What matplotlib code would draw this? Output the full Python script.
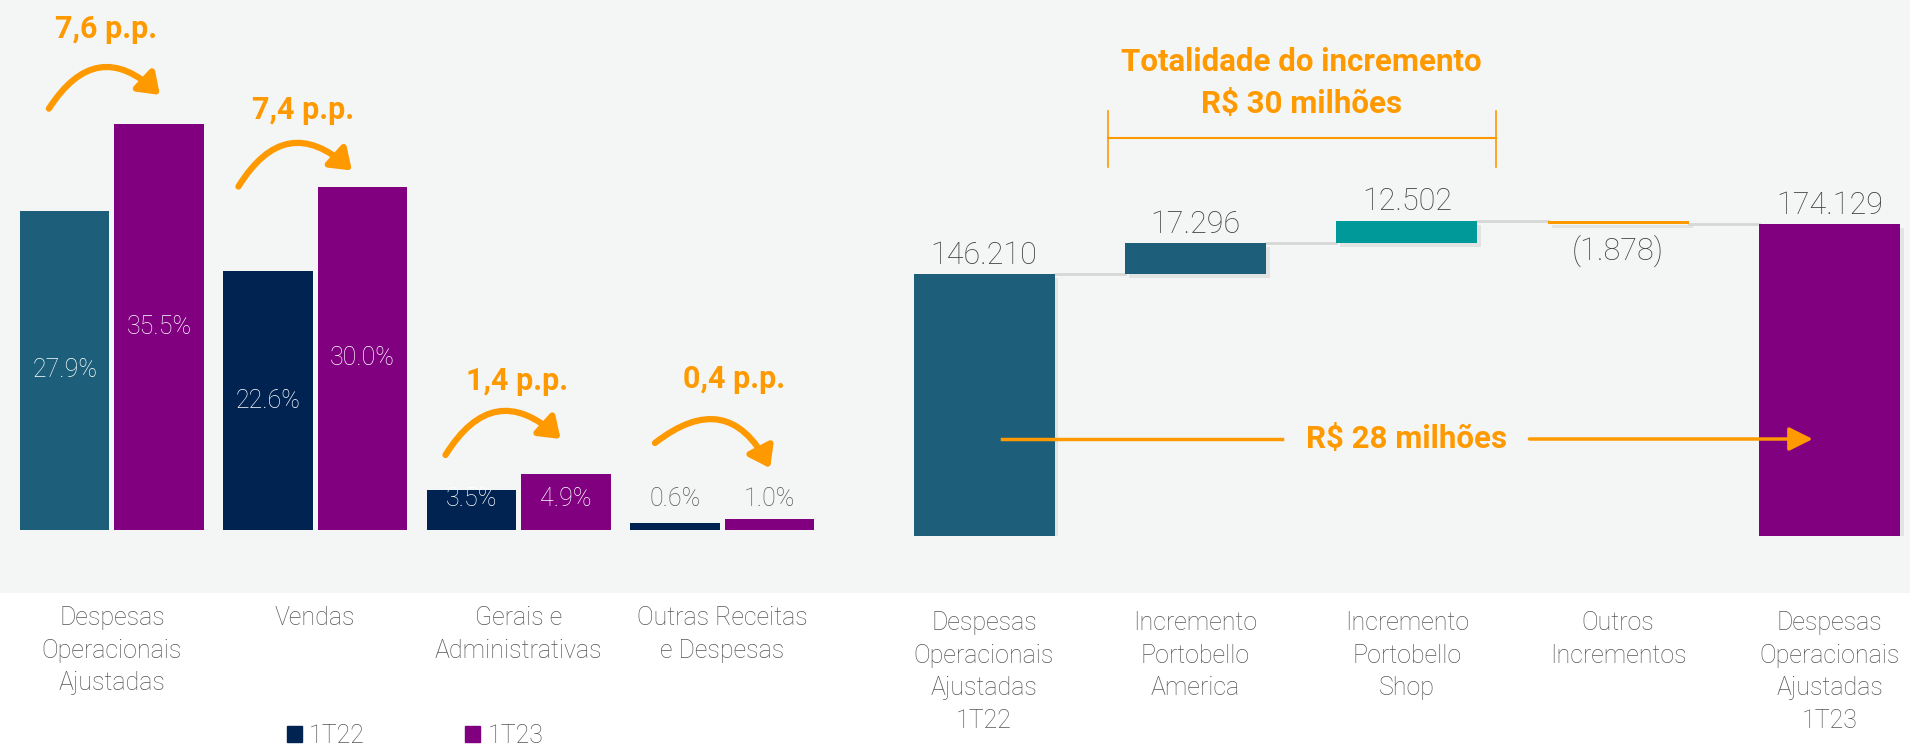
import numpy as np
import matplotlib.pyplot as plt
from matplotlib.patches import Rectangle, FancyArrowPatch, Patch

plt.rcParams['font.family'] = ['Roboto', 'DejaVu Sans']

# dados - painel esquerdo (% da receita)
categorias = ['Despesas\nOperacionais\nAjustadas', 'Vendas', 'Gerais e\nAdministrativas',
              'Outras Receitas\ne Despesas']
t22 = [27.9, 22.6, 3.5, 0.6]
t23 = [35.5, 30.0, 4.9, 1.0]
variacao = ['7,6 p.p.', '7,4 p.p.', '1,4 p.p.', '0,4 p.p.']

# dados - painel direito (ponte, R$ mil)
etapas = ['Despesas\nOperacionais\nAjustadas\n1T22', 'Incremento\nPortobello\nAmerica',
          'Incremento\nPortobello\nShop', 'Outros\nIncrementos',
          'Despesas\nOperacionais\nAjustadas\n1T23']
inicio = 146210
incrementos = [17296, 12502, -1878]
fim = 174129

LARANJA = '#ff9900'
TEAL = '#1d5f7a'
NAVY = '#002352'
ROXO = '#800080'
VERDE = '#009999'
CINZA = '#555555'
FUNDO = '#f4f6f5'

W, H = 1910, 748
fig = plt.figure(figsize=(W / 100, H / 100), dpi=100)
fig.patch.set_facecolor('white')
# faixa cinza de fundo
fig.patches.append(Rectangle((0, 155 / H), 1, 1, transform=fig.transFigure,
                             facecolor=FUNDO, edgecolor='none', zorder=-10))

# ---------------- painel esquerdo ----------------
ax1 = fig.add_axes([10.25 / W, 218 / H, 813.5 / W, 530 / H])
ax1.set_facecolor('none')
x = np.arange(len(categorias))
w = 0.44
cores22 = [TEAL] + [NAVY] * (len(t22) - 1)
ax1.bar(x - 0.232, t22, w, color=cores22)
ax1.bar(x + 0.232, t23, w, color=ROXO)
ax1.set_xlim(-0.5, 3.5)
ax1.set_ylim(0, 46.29)
ax1.axis('off')

for xi, vals in [(x - 0.232, t22), (x + 0.232, t23)]:
    for xx, v in zip(xi, vals):
        if v >= 2:
            ax1.text(xx, max(v / 2, 2.7), f'{v:.1f}%', ha='center', va='center',
                     color='white', fontsize=18, fontweight='light')
        else:
            ax1.text(xx, 2.7, f'{v:.1f}%', ha='center', va='center',
                     color=CINZA, fontsize=18, fontweight='light')

for i, lab in enumerate(categorias):
    ax1.annotate(lab, xy=(i, 0), xytext=(0, -55), textcoords='offset points',
                 ha='center', va='top', fontsize=18, fontweight='light', color=CINZA,
                 linespacing=1.45, annotation_clip=False)

# setas curvas e textos de variacao
pp_xy = [(-0.03, 43.8), (0.94, 36.7), (1.99, 13.0), (3.06, 13.2)]
setas = [((-0.31, 36.8), (0.236, 38.0)), ((0.622, 30.0), (1.18, 31.4)),
         ((1.64, 6.55), (2.206, 7.95)), ((2.67, 7.6), (3.236, 5.4))]
for txt, (tx, ty), (a, b) in zip(variacao, pp_xy, setas):
    ax1.text(tx, ty, txt, ha='center', va='center', color=LARANJA,
             fontsize=22, fontweight='bold')
    ax1.add_patch(FancyArrowPatch(a, b, connectionstyle='arc3,rad=-0.6',
                                  arrowstyle='-|>,head_length=0.7,head_width=0.5',
                                  mutation_scale=17, color=LARANJA, lw=4.5,
                                  shrinkA=0, shrinkB=0))

fig.legend(handles=[Patch(color=NAVY, label='1T22'), Patch(color=ROXO, label='1T23')],
           loc='center', bbox_to_anchor=(415 / W, 12 / H), ncol=2, frameon=False,
           handlelength=0.6, handleheight=0.6, handletextpad=0.3, columnspacing=4.0,
           prop={'size': 18, 'weight': 'light'}, labelcolor=CINZA)

# ---------------- painel direito (ponte) ----------------
ax2 = fig.add_axes([878.3 / W, 212 / H, (W - 878.3) / W, 536 / H])
ax2.set_facecolor('none')
ax2.set_xlim(-0.5, 4.38)
ax2.set_ylim(0, 299107)
ax2.axis('off')

acum = np.cumsum([inicio] + incrementos)
bases = [0] + [min(acum[i], acum[i + 1]) for i in range(len(incrementos))] + [0]
alturas = [inicio] + [abs(v) for v in incrementos] + [fim]
cores = [TEAL, TEAL, VERDE, LARANJA, ROXO]
xs = np.arange(len(etapas))
bw = 0.667

# sombra
ax2.bar(xs + 0.018, alturas, bw, bottom=np.array(bases) - 2500, color='black',
        alpha=0.07, zorder=1)
ax2.bar(xs, alturas, bw, bottom=bases, color=cores, zorder=3)

# conectores
niveis = list(acum) + [fim]
for i in range(len(xs) - 1):
    ax2.plot([xs[i] + bw / 2, xs[i + 1] - bw / 2], [niveis[i], niveis[i]],
             color='#d5d8d7', lw=2, zorder=2)

valores = [inicio] + incrementos + [fim]
for i, v in enumerate(valores):
    s = f'{abs(v):,}'.replace(',', '.')
    if v < 0:
        ax2.annotate(f'({s})', xy=(i, bases[i]), xytext=(0, -8), textcoords='offset points',
                     ha='center', va='top', fontsize=22, fontweight='light', color='#404040')
    else:
        ax2.annotate(s, xy=(i, bases[i] + alturas[i]), xytext=(0, 3),
                     textcoords='offset points', ha='center', va='bottom',
                     fontsize=22, fontweight='light', color='#404040')

for i, lab in enumerate(etapas):
    ax2.annotate(lab, xy=(i, 0), xytext=(0, -54), textcoords='offset points',
                 ha='center', va='top', fontsize=18, fontweight='light', color=CINZA,
                 linespacing=1.45, annotation_clip=False)

# chave "Totalidade do incremento"
ax2.plot([0.587, 2.42], [222098, 222098], color=LARANJA, lw=1.5)
ax2.plot([0.587, 0.587], [205915, 237165], color=LARANJA, lw=1.2)
ax2.plot([2.42, 2.42], [205915, 237165], color=LARANJA, lw=1.2)
ax2.text(1.5, 253000, 'Totalidade do incremento\nR$ 30 milhões', ha='center', va='center',
         color=LARANJA, fontsize=22.5, fontweight='bold', linespacing=1.5)

# seta R$ 28 milhoes
ax2.plot([0.085, 1.41], [54129, 54129], color=LARANJA, lw=2.5, zorder=4)
ax2.text(2.0, 54129, 'R$ 28 milhões', ha='center', va='center', color=LARANJA,
         fontsize=22.5, fontweight='bold', zorder=4)
ax2.annotate('', xy=(3.92, 54129), xytext=(2.58, 54129),
             arrowprops=dict(arrowstyle='-|>,head_length=0.8,head_width=0.4',
                             color=LARANJA, lw=2.5, mutation_scale=18,
                             shrinkA=0, shrinkB=0), zorder=4)

fig.savefig('out.png', dpi=100, facecolor=fig.get_facecolor())
